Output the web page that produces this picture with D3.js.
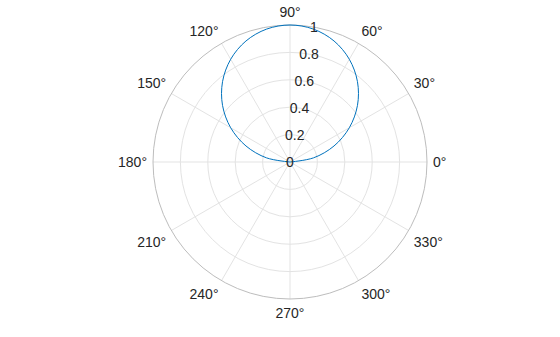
<!DOCTYPE html>
<html>
<head>
<meta charset="utf-8">
<script src="https://cdn.jsdelivr.net/npm/d3@7"></script>
<style>
  body { margin: 0; background: #fff; }
  svg text { font-family: "Liberation Sans", Arial, sans-serif; font-size: 14px; fill: #262626; }
</style>
</head>
<body>
<div id="container"></div>
<script>
const w = 560,
  h = 337,
  cx = 290,
  cy = 162,
  radius = 137,
  labelRadius = 143,
  rAxisAngle = 80;

// curve samples (theta in degrees, r)
const thetaValues = [0, 10, 20, 30, 40, 50, 60, 70, 80, 90, 100, 110, 120, 130, 140, 150, 160, 170, 180];
const rValues = [0, 0.174, 0.342, 0.5, 0.643, 0.766, 0.866, 0.94, 0.985, 1, 0.985, 0.94, 0.866, 0.766, 0.643, 0.5, 0.342, 0.174, 0];

const rTicks = [0, 0.2, 0.4, 0.6, 0.8, 1];
const thetaTicks = [0, 30, 60, 90, 120, 150, 180, 210, 240, 270, 300, 330];

const svg = d3
  .select('#container')
  .append('svg')
  .attr('width', w)
  .attr('height', h);

const rScale = d3.scaleLinear().domain([0, 1]).range([0, radius]);
const toRad = (deg) => (deg * Math.PI) / 180;

const g = svg.append('g').attr('transform', 'translate(' + cx + ', ' + cy + ')');

// spokes
g.selectAll('line.spoke')
  .data(thetaTicks)
  .enter()
  .append('line')
  .attr('class', 'spoke')
  .attr('x1', 0)
  .attr('y1', 0)
  .attr('x2', (d) => rScale(1) * Math.cos(toRad(d)))
  .attr('y2', (d) => -rScale(1) * Math.sin(toRad(d)))
  .attr('stroke', '#e3e3e3')
  .attr('stroke-width', 1);

// rings
g.selectAll('circle.ring')
  .data(rTicks.filter((d) => d > 0))
  .enter()
  .append('circle')
  .attr('class', 'ring')
  .attr('r', (d) => rScale(d))
  .attr('fill', 'none')
  .attr('stroke', (d) => (d === 1 ? '#bdbdbd' : '#e3e3e3'))
  .attr('stroke-width', 1);

// theta labels, aligned away from the circle like matlab does
g.selectAll('text.theta')
  .data(thetaTicks)
  .enter()
  .append('text')
  .attr('class', 'theta')
  .attr('x', (d) => labelRadius * Math.cos(toRad(d)))
  .attr('y', (d) => -labelRadius * Math.sin(toRad(d)))
  .attr('text-anchor', (d) => {
    const c = Math.cos(toRad(d));
    return c > 0.01 ? 'start' : c < -0.01 ? 'end' : 'middle';
  })
  .attr('dy', (d) => {
    const s = Math.sin(toRad(d));
    return s > 0.01 ? '-0.17em' : s < -0.01 ? '0.95em' : '0.36em';
  })
  .text((d) => d + '°');

// data curve
const line = d3
  .lineRadial()
  .angle((d) => toRad(90 - d[0]))
  .radius((d) => rScale(d[1]))
  .curve(d3.curveCatmullRom);

g.append('path')
  .datum(thetaValues.map((t, i) => [t, rValues[i]]))
  .attr('d', line)
  .attr('fill', 'none')
  .attr('stroke', '#0072bd')
  .attr('stroke-width', 1);

// r labels
g.selectAll('text.r')
  .data(rTicks)
  .enter()
  .append('text')
  .attr('class', 'r')
  .attr('x', (d) => rScale(d) * Math.cos(toRad(rAxisAngle)))
  .attr('y', (d) => -rScale(d) * Math.sin(toRad(rAxisAngle)))
  .attr('text-anchor', 'middle')
  .attr('dy', '0.36em')
  .text((d) => d);
</script>
</body>
</html>
